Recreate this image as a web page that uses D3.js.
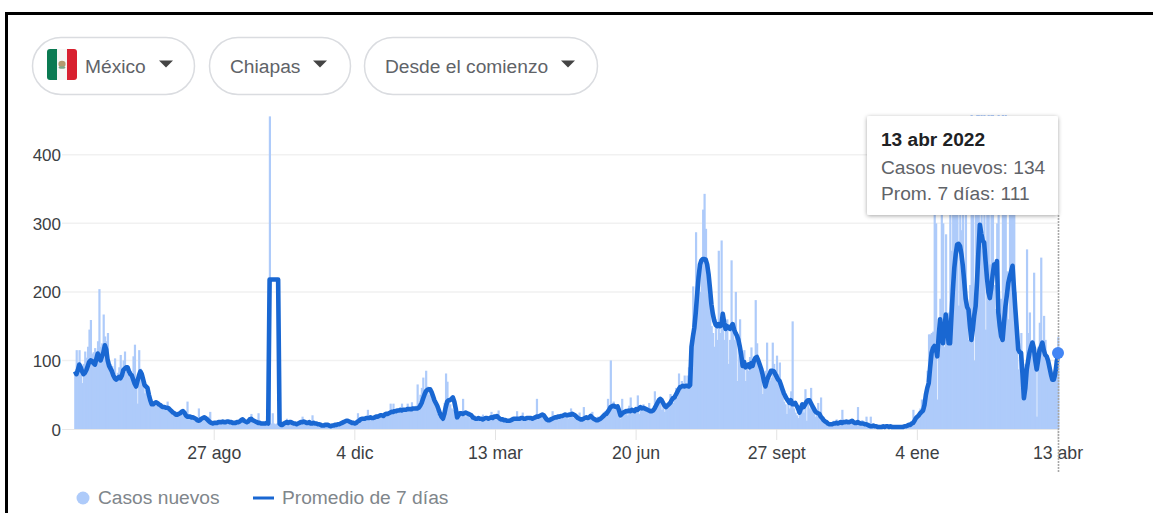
<!DOCTYPE html>
<html lang="es">
<head>
<meta charset="utf-8">
<title>Casos nuevos en Chiapas</title>
<script src="https://cdn.jsdelivr.net/npm/d3@7"></script>
<style>
  html, body { margin: 0; padding: 0; background: #fff; overflow: hidden; }
  svg { display: block; font-family: "Liberation Sans", Arial, sans-serif; }
</style>
</head>
<body>
<svg id="chart" width="1153" height="513"></svg>
<script>
// Daily reports for Chiapas, one entry per day from 21 May 2020 to 13 Apr 2022.
const startDate = new Date(2020, 4, 21);

const newCases = [
  84,115,95,115,90,67,95,113,104,120,
  145,159,110,112,118,95,128,204,120,125,
  167,135,128,140,100,95,92,88,103,78,
  82,90,108,84,100,113,90,80,88,84,
  80,106,123,70,37,115,88,80,66,52,
  60,55,44,38,36,38,40,42,38,34,
  32,32,30,30,34,40,30,26,24,22,
  20,22,22,24,26,28,24,22,20,40,
  18,16,16,18,16,14,16,30,12,12,
  14,16,14,14,18,25,9,8,8,8,
  8,10,8,11,13,9,8,11,12,9,
  8,11,8,9,10,12,9,14,15,10,
  9,12,10,15,22,14,12,9,8,23,
  8,7,8,7,9,8,7,456,8,23,
  8,7,8,6,7,7,8,9,11,15,
  8,9,10,7,7,9,6,8,10,11,
  18,9,8,10,12,8,6,20,7,9,
  8,6,8,5,5,6,5,7,5,4,
  4,6,5,7,8,6,8,9,11,8,
  12,13,14,10,9,12,8,7,10,23,
  13,15,16,13,18,15,28,15,18,16,
  15,19,17,20,17,22,18,17,24,20,
  20,23,37,24,37,22,30,25,28,26,
  37,26,25,30,37,25,30,39,28,32,
  34,65,38,50,60,75,58,85,62,50,
  55,44,40,36,28,22,18,14,12,15,
  38,81,69,40,36,30,28,26,16,20,
  24,20,22,44,20,18,24,18,15,16,
  15,20,13,15,16,13,14,21,14,12,
  18,15,16,25,14,17,20,15,27,13,
  14,16,12,12,13,11,12,15,18,13,
  17,26,15,13,16,24,18,14,17,12,
  14,16,14,19,15,44,18,16,20,22,
  18,13,14,12,12,18,26,15,16,13,
  18,16,20,17,22,17,24,15,20,30,
  18,16,22,15,18,24,14,16,32,12,
  15,13,18,20,25,15,16,13,18,14,
  16,20,24,26,18,44,28,100,36,40,
  28,32,30,24,15,44,22,28,30,20,
  34,46,25,28,30,24,49,22,34,26,
  36,28,32,25,38,30,24,30,55,32,
  40,38,46,28,36,25,34,38,40,51,
  44,38,50,60,46,81,56,70,62,78,
  60,78,90,66,110,208,150,287,180,230,
  200,245,320,343,292,240,195,180,150,140,
  120,160,130,260,140,275,170,130,145,160,
  95,130,246,150,130,200,70,130,160,110,
  105,115,70,90,85,105,119,90,100,188,
  125,100,90,85,51,60,85,126,85,70,
  75,126,95,75,107,80,97,55,48,40,
  36,22,42,30,55,157,30,24,20,16,
  22,30,36,24,58,12,45,30,60,28,
  24,18,26,38,22,46,13,11,9,11,
  8,9,8,10,12,7,14,8,10,12,
  28,9,11,8,7,13,9,11,8,10,
  12,32,9,11,13,8,7,18,7,5,
  18,5,7,5,4,4,6,4,5,3,
  4,3,5,4,6,3,4,3,5,3,
  4,3,5,3,4,3,6,4,8,6,
  28,12,14,18,22,30,43,26,40,60,
  85,138,138,140,142,330,300,43,160,190,
  345,300,120,284,150,170,380,260,350,320,
  360,400,180,390,290,340,200,370,170,130,
  210,458,320,100,340,458,458,285,458,260,
  458,145,330,458,240,458,458,210,175,300,
  458,130,190,458,320,458,230,160,340,400,
  340,380,200,120,87,105,140,85,70,95,
  262,140,170,110,130,228,100,18,120,155,
  250,115,165,130,105,85,95,70,75,85,
  100,110,134
];

const sevenDayAverage = [
  84,80,86,94,90,84,80,82,86,92,
  98,100,99,96,94,102,110,104,100,106,
  112,122,116,100,92,88,84,78,74,72,
  74,76,74,78,86,88,90,90,84,80,
  78,72,66,62,70,78,84,80,72,64,
  62,60,50,42,36,36,38,39,38,36,
  35,33,32,32,31,31,30,28,26,24,
  23,21,21,22,23,25,26,24,20,18,
  18,18,17,17,16,15,13,12,13,15,
  16,17,16,14,12,10,9,8,9,9,
  9,10,10,10,11,10,10,11,11,10,
  10,9,9,9,10,10,11,13,14,12,
  11,10,11,14,15,13,12,11,10,9,
  9,8,8,8,8,9,8,218,218,218,
  218,218,218,218,8,6,6,8,9,10,
  9,10,10,9,8,8,7,8,9,10,
  10,11,10,9,9,10,8,8,9,8,
  8,7,7,6,5,5,6,6,6,5,
  4,5,5,6,6,7,7,8,9,10,
  11,12,12,11,10,9,9,8,9,11,
  12,14,15,15,15,16,16,16,17,16,
  16,17,18,18,19,20,20,19,21,22,
  22,23,24,25,25,26,26,27,27,28,
  27,28,28,28,29,29,29,29,30,30,
  30,30,31,34,38,44,50,55,57,58,
  58,54,48,42,38,34,28,22,18,15,
  22,32,40,42,42,44,46,40,30,17,
  20,23,23,22,23,24,23,22,21,20,
  17,16,15,15,16,15,15,14,15,16,
  16,15,16,17,16,18,18,19,17,15,
  14,14,13,13,12,12,12,13,14,15,
  15,15,15,15,16,16,15,15,16,16,
  16,16,15,16,17,18,18,19,20,21,
  20,17,14,13,13,14,15,16,17,17,
  18,18,19,19,20,21,20,20,21,21,
  22,21,20,18,16,15,14,14,15,16,
  17,16,17,19,17,15,14,13,13,14,
  15,17,19,21,22,25,28,32,33,34,
  33,32,33,27,20,22,24,25,26,26,
  27,26,28,27,26,29,28,30,32,30,
  31,30,29,28,27,26,26,27,30,34,
  38,42,44,42,38,34,32,34,36,38,
  42,45,46,50,54,58,61,62,63,62,
  63,63,62,64,120,135,148,170,197,222,
  240,246,248,248,247,240,226,205,182,168,
  158,152,150,153,150,151,168,155,146,150,
  148,146,150,153,145,140,136,130,120,108,
  92,98,90,92,94,90,96,92,100,104,
  105,100,94,88,80,70,62,70,76,80,
  85,85,84,80,76,72,70,64,58,52,
  48,44,41,38,42,36,36,38,34,30,
  24,30,36,32,36,40,42,42,38,34,
  30,26,24,23,22,18,16,13,11,10,
  8,7,7,7,8,8,9,8,9,10,
  9,10,10,11,10,10,11,12,10,9,
  9,10,9,8,8,8,7,7,6,5,
  4,4,5,4,4,3,3,3,3,4,
  3,4,4,3,4,3,3,3,3,3,
  3,3,3,3,4,4,5,6,6,8,
  9,12,16,18,20,23,25,27,35,50,
  60,67,90,111,118,121,118,106,135,160,
  140,125,145,167,150,125,125,165,203,235,
  255,269,270,267,255,238,215,190,178,174,
  150,130,145,165,179,215,260,298,285,275,
  272,245,220,200,191,205,225,240,232,245,
  170,150,135,130,155,179,195,213,222,230,
  238,205,174,145,116,112,111,80,45,60,
  87,100,112,120,126,118,100,87,100,115,
  120,126,115,108,106,100,90,80,72,72,
  80,95,111
];

const yTicks = [0, 100, 200, 300, 400];
const xTickDates = [
  [2020, 7, 27, "27 ago"],
  [2020, 11, 4, "4 dic"],
  [2021, 2, 13, "13 mar"],
  [2021, 5, 20, "20 jun"],
  [2021, 8, 27, "27 sept"],
  [2022, 0, 4, "4 ene"],
  [2022, 3, 13, "13 abr"]
];
const filters = [
  { label: "México", left: 32, right: 195, textX: 85, caretX: 166 },
  { label: "Chiapas", left: 209, right: 351, textX: 230, caretX: 320 },
  { label: "Desde el comienzo", left: 364, right: 598, textX: 385, caretX: 568 }
];
const tooltipTitle = "13 abr 2022";
const tooltipLines = ["Casos nuevos: 134", "Prom. 7 días: 111"];
const legendLabels = ["Casos nuevos", "Promedio de 7 días"];

const dayMs = 864e5;
const dateAt = i => new Date(startDate.getTime() + i * dayMs);
const lastDate = dateAt(newCases.length - 1);

const x = d3.scaleTime().domain([startDate, lastDate]).range([75, 1058]);
const y = d3.scaleLinear().domain([0, 458]).range([429, 115]);

const svg = d3.select("#chart");
const cBar = "#aecbfa", cLine = "#1967d2", cDot = "#4285f4";
const cGrid = "#f1f1f1", cAxis = "#3c4043", cMuted = "#80868b", cChip = "#5f6368";

// Frame around the card: top and left edges only
svg.append("path")
  .attr("d", "M6.5,513V13.5H1153")
  .attr("fill", "none").attr("stroke", "#000").attr("stroke-width", 3);

// Filter chips
const chip = svg.append("g").selectAll("g").data(filters).join("g");
chip.append("rect")
  .attr("x", d => d.left + 0.5).attr("y", 37.5)
  .attr("width", d => d.right - d.left - 1).attr("height", 57).attr("rx", 28.5)
  .attr("fill", "#fff").attr("stroke", "#dadce0").attr("stroke-width", 1.5);
chip.append("text")
  .attr("x", d => d.textX).attr("y", 72.5)
  .attr("font-size", 19.2).attr("fill", cChip)
  .text(d => d.label);
chip.append("path")
  .attr("d", d => `M${d.caretX - 7},60.5h14l-7,7z`)
  .attr("fill", "#444");

// Mexican flag on the first chip
const flag = svg.append("g");
flag.append("clipPath").attr("id", "flagClip")
  .append("rect").attr("x", 47).attr("y", 49).attr("width", 30).attr("height", 31).attr("rx", 3);
const flagBody = flag.append("g").attr("clip-path", "url(#flagClip)");
flagBody.append("rect").attr("x", 47).attr("y", 49).attr("width", 10).attr("height", 31).attr("fill", "#0b7a52");
flagBody.append("rect").attr("x", 57).attr("y", 49).attr("width", 10).attr("height", 31).attr("fill", "#f6f6f4");
flagBody.append("rect").attr("x", 67).attr("y", 49).attr("width", 10).attr("height", 31).attr("fill", "#d8202f");
flagBody.append("ellipse").attr("cx", 62).attr("cy", 64).attr("rx", 3.6).attr("ry", 3.2).attr("fill", "#b39a70");
flagBody.append("ellipse").attr("cx", 62).attr("cy", 67.5).attr("rx", 3.4).attr("ry", 1.3).attr("fill", "#7fa78a");

// Horizontal grid and value labels
const yAxis = svg.append("g");
yAxis.selectAll("line").data(yTicks.filter(t => t > 0)).join("line")
  .attr("x1", 62).attr("x2", 1058)
  .attr("y1", d => y(d)).attr("y2", d => y(d))
  .attr("stroke", cGrid).attr("stroke-width", 1.5);
yAxis.selectAll("text").data(yTicks).join("text")
  .attr("x", 61).attr("y", d => y(d) + 6.5)
  .attr("text-anchor", "end").attr("font-size", 17).attr("fill", cAxis)
  .text(d => d);

// Baseline and date ticks
svg.append("line").attr("x1", 62).attr("x2", 1058)
  .attr("y1", y(0) + 0.5).attr("y2", y(0) + 0.5)
  .attr("stroke", "#e8e8e8").attr("stroke-width", 1);
const xAxis = svg.append("g").selectAll("g").data(xTickDates).join("g")
  .attr("transform", d => `translate(${x(new Date(d[0], d[1], d[2]))},0)`);
xAxis.append("line").attr("y1", 429).attr("y2", 440)
  .attr("stroke", "#e3e3e3").attr("stroke-width", 1);
xAxis.append("text").attr("y", 458.5).attr("text-anchor", "middle")
  .attr("font-size", 17.7).attr("fill", cAxis)
  .text(d => d[3]);

// Daily bars, slightly wider than one day so neighbours merge into a solid fill
const barWidth = 2.2;
svg.append("g").selectAll("rect").data(newCases).join("rect")
  .attr("x", (d, i) => x(dateAt(i)) - barWidth / 2 + 0.3)
  .attr("y", d => y(d))
  .attr("width", barWidth)
  .attr("height", d => y(0) - y(d))
  .attr("fill", cBar);

// Seven-day average; the step around the October batch is kept as reported
const avgLine = d3.line()
  .x((d, i) => x(dateAt(i)))
  .y(d => y(d));
svg.append("path").datum(sevenDayAverage)
  .attr("d", avgLine)
  .attr("fill", "none").attr("stroke", cLine)
  .attr("stroke-width", 4.6).attr("stroke-linejoin", "round");

// Hover marker for the latest day
const lastIndex = sevenDayAverage.length - 1;
svg.append("line")
  .attr("x1", x(lastDate) + 0.5).attr("x2", x(lastDate) + 0.5)
  .attr("y1", 215).attr("y2", 472)
  .attr("stroke", "#a8a8a8").attr("stroke-width", 1.6).attr("stroke-dasharray", "2,1");
svg.append("circle")
  .attr("cx", x(lastDate)).attr("cy", y(sevenDayAverage[lastIndex])).attr("r", 6)
  .attr("fill", cDot);

// Tooltip card
const shadow = svg.append("defs").append("filter").attr("id", "cardShadow")
  .attr("x", "-10%").attr("y", "-10%").attr("width", "120%").attr("height", "125%");
shadow.append("feDropShadow").attr("dx", 0).attr("dy", 1).attr("stdDeviation", 2)
  .attr("flood-color", "#000").attr("flood-opacity", 0.35);
const tip = svg.append("g");
tip.append("rect")
  .attr("x", 867).attr("y", 116).attr("width", 191).attr("height", 99).attr("rx", 2)
  .attr("fill", "#fff").attr("filter", "url(#cardShadow)");
tip.append("text").attr("x", 881).attr("y", 146)
  .attr("font-size", 19.1).attr("font-weight", 700).attr("fill", "#202124")
  .text(tooltipTitle);
tip.selectAll("text.row").data(tooltipLines).join("text").attr("class", "row")
  .attr("x", 881).attr("y", (d, i) => 174 + i * 25.5)
  .attr("font-size", 19.2).attr("fill", cChip)
  .text(d => d);

// Legend
const legend = svg.append("g");
legend.append("circle").attr("cx", 83).attr("cy", 498).attr("r", 6.5).attr("fill", cBar);
legend.append("text").attr("x", 98).attr("y", 504)
  .attr("font-size", 19.2).attr("fill", cMuted).text(legendLabels[0]);
legend.append("line").attr("x1", 253).attr("x2", 274).attr("y1", 498).attr("y2", 498)
  .attr("stroke", cLine).attr("stroke-width", 3);
legend.append("text").attr("x", 282).attr("y", 504)
  .attr("font-size", 19.2).attr("fill", cMuted).text(legendLabels[1]);
</script>
</body>
</html>
